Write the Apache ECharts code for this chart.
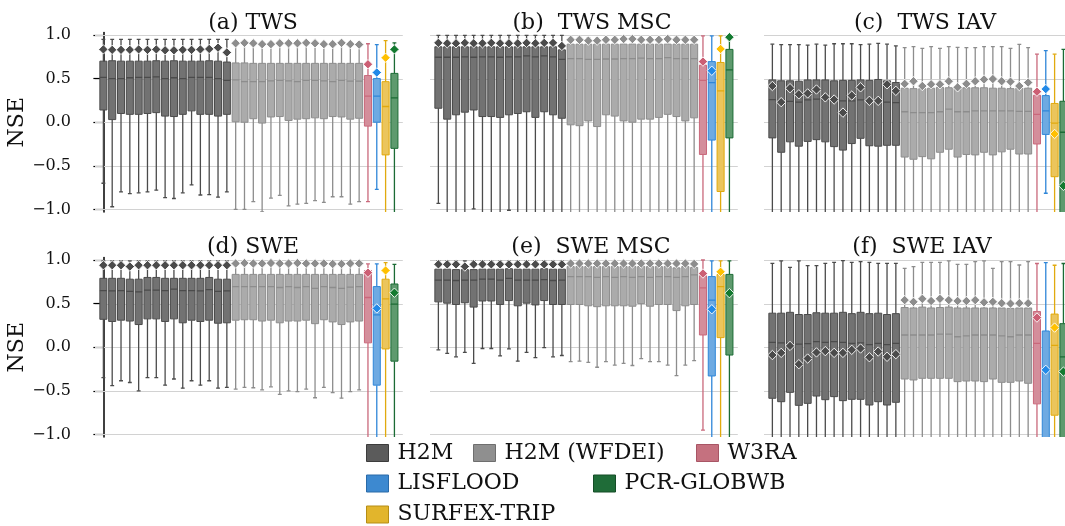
<!DOCTYPE html>
<html><head><meta charset="utf-8">
<script src="https://cdn.jsdelivr.net/npm/echarts@6/dist/echarts.min.js"></script>
<style>html,body{margin:0;padding:0;background:#fff}#c{width:1065px;height:526px}</style>
</head><body><div id="c"></div><script>
// ---------------- DATA ----------------
const groupNames = ['H2M', 'H2M (WFDEI)', 'W3RA', 'LISFLOOD', 'SURFEX-TRIP', 'PCR-GLOBWB'];
const groupSizes = [15, 15, 1, 1, 1, 1];
const panelTitles = ['(a) TWS', '(b)  TWS MSC', '(c)  TWS IAV', '(d) SWE', '(e)  SWE MSC', '(f)  SWE IAV'];
const yTicks = [-1.0, -0.5, 0.0, 0.5, 1.0];

// (a) TWS
const twsHigh = [0.95,0.95,0.95,0.95,0.95,0.95,0.95,0.95,0.95,0.95,0.95,0.95,0.95,0.95,0.95, 0.92,0.92,0.92,0.92,0.92,0.92,0.92,0.92,0.92,0.92,0.92,0.92,0.92,0.92,0.92, 0.90,0.89,0.935,0.91];
const twsQ3 = [0.70,0.705,0.70,0.70,0.70,0.70,0.705,0.70,0.705,0.70,0.70,0.70,0.705,0.70,0.69, 0.68,0.68,0.675,0.675,0.675,0.675,0.675,0.675,0.675,0.675,0.675,0.675,0.675,0.675,0.675, 0.535,0.50,0.465,0.56];
const twsMed = [0.515,0.50,0.50,0.51,0.515,0.515,0.52,0.50,0.51,0.50,0.515,0.515,0.515,0.50,0.48, 0.485,0.465,0.465,0.465,0.475,0.48,0.475,0.465,0.48,0.48,0.475,0.465,0.48,0.47,0.47, 0.30,0.30,0.18,0.28];
const twsQ1 = [0.14,0.03,0.10,0.09,0.09,0.10,0.11,0.07,0.065,0.09,0.13,0.09,0.09,0.07,0.09, 0.005,0.0,0.04,-0.01,0.06,0.065,0.02,0.035,0.04,0.05,0.04,0.065,0.06,0.035,0.045, -0.045,0.0,-0.375,-0.30];
const twsLow = [-0.70,-0.97,-0.80,-0.82,-0.81,-0.80,-0.78,-0.865,-0.875,-0.81,-0.72,-0.835,-0.83,-0.86,-0.80, -1.0,-1.0,-0.91,-1.03,-0.87,-0.84,-0.96,-0.94,-0.93,-0.90,-0.92,-0.855,-0.855,-0.94,-0.91, -0.91,-0.77,-1.3,-1.3];
const twsMean = [0.835,0.83,0.83,0.83,0.835,0.83,0.835,0.825,0.825,0.83,0.83,0.835,0.84,0.855,0.80, 0.905,0.91,0.905,0.895,0.895,0.905,0.905,0.905,0.91,0.905,0.895,0.895,0.91,0.895,0.89, 0.665,0.57,0.74,0.835];

// (b) TWS MSC
const twsMscHigh = [0.995,0.995,0.995,0.995,0.995,0.995,0.995,0.995,0.995,0.995,0.995,0.995,0.995,0.995,0.995, 0.97,0.97,0.97,0.97,0.97,0.97,0.97,0.97,0.97,0.97,0.97,0.97,0.97,0.97,0.97, 0.99,0.99,0.99,0.995];
const twsMscQ3 = [0.865,0.865,0.865,0.865,0.865,0.865,0.865,0.865,0.865,0.865,0.865,0.865,0.865,0.865,0.83, 0.895,0.895,0.895,0.895,0.895,0.895,0.895,0.895,0.895,0.895,0.895,0.895,0.895,0.895,0.895, 0.655,0.695,0.685,0.835];
const twsMscMed = [0.745,0.745,0.745,0.75,0.745,0.75,0.75,0.745,0.75,0.75,0.76,0.75,0.76,0.75,0.72, 0.73,0.73,0.72,0.72,0.725,0.725,0.73,0.73,0.735,0.73,0.73,0.74,0.73,0.73,0.73, 0.48,0.455,0.36,0.60];
const twsMscQ1 = [0.16,0.035,0.085,0.115,0.14,0.065,0.065,0.055,0.085,0.10,0.12,0.055,0.12,0.085,0.045, -0.03,-0.04,0.015,-0.05,0.085,0.07,0.015,0.0,0.035,0.035,0.055,0.09,0.065,0.015,0.05, -0.37,-0.205,-0.795,-0.18];
const twsMscLow = [-0.93,-1.2,-1.2,-1.2,-0.995,-1.2,-1.2,-1.2,-1.01,-1.2,-1.2,-1.2,-1.2,-1.2,-1.2, -1.2,-1.2,-1.2,-1.2,-1.2,-1.2,-1.2,-1.2,-1.2,-1.2,-1.2,-1.2,-1.2,-1.2,-1.2, -1.2,-1.2,-1.2,-1.2];
const twsMscMean = [0.91,0.905,0.905,0.91,0.905,0.905,0.91,0.905,0.905,0.905,0.91,0.905,0.91,0.91,0.875, 0.945,0.945,0.935,0.935,0.945,0.945,0.955,0.955,0.945,0.945,0.945,0.955,0.945,0.945,0.945, 0.695,0.59,0.84,0.975];

// (c) TWS IAV
const twsIavHigh = [0.895,0.89,0.89,0.89,0.885,0.895,0.885,0.90,0.90,0.90,0.89,0.895,0.905,0.895,0.875, 0.855,0.866,0.847,0.866,0.847,0.866,0.858,0.855,0.855,0.866,0.866,0.866,0.847,0.893,0.855, 0.78,0.82,0.78,0.835];
const twsIavQ3 = [0.485,0.475,0.475,0.47,0.485,0.485,0.485,0.475,0.48,0.48,0.485,0.48,0.49,0.475,0.455, 0.39,0.385,0.385,0.39,0.40,0.395,0.39,0.395,0.395,0.395,0.39,0.39,0.385,0.39,0.39, 0.31,0.305,0.215,0.24];
const twsIavMed = [0.26,0.255,0.24,0.23,0.255,0.265,0.255,0.245,0.245,0.245,0.255,0.255,0.26,0.23,0.225, 0.12,0.11,0.11,0.11,0.12,0.15,0.12,0.12,0.13,0.13,0.13,0.13,0.13,0.125,0.125, 0.09,0.13,-0.01,-0.115];
const twsIavQ1 = [-0.18,-0.345,-0.225,-0.275,-0.22,-0.20,-0.225,-0.28,-0.32,-0.245,-0.185,-0.27,-0.275,-0.265,-0.265, -0.40,-0.425,-0.395,-0.42,-0.345,-0.31,-0.40,-0.37,-0.375,-0.345,-0.375,-0.34,-0.31,-0.365,-0.365, -0.25,-0.14,-0.625,-1.3];
const twsIavLow = [-1.2,-1.2,-1.2,-1.2,-1.2,-1.2,-1.2,-1.2,-1.2,-1.2,-1.2,-1.2,-1.2,-1.2,-1.2, -1.2,-1.2,-1.2,-1.2,-1.2,-1.2,-1.2,-1.2,-1.2,-1.2,-1.2,-1.2,-1.2,-1.2,-1.2, -1.2,-0.815,-1.2,-1.5];
const twsIavMean = [0.415,0.23,0.39,0.32,0.33,0.375,0.285,0.26,0.11,0.305,0.40,0.245,0.245,0.435,0.36, 0.44,0.47,0.415,0.435,0.435,0.47,0.40,0.44,0.47,0.49,0.495,0.47,0.465,0.415,0.455, 0.35,0.38,-0.135,-0.73];

// (d) SWE
const sweHigh = [0.99,0.99,0.99,0.99,0.99,0.99,0.99,0.99,0.99,0.99,0.99,0.99,0.99,0.99,0.99, 0.985,0.985,0.985,0.985,0.985,0.985,0.985,0.985,0.985,0.985,0.985,0.985,0.985,0.985,0.985, 0.955,0.955,0.97,0.95];
const sweQ3 = [0.79,0.79,0.79,0.78,0.78,0.80,0.80,0.79,0.79,0.79,0.79,0.79,0.80,0.78,0.78, 0.835,0.835,0.835,0.835,0.835,0.835,0.835,0.835,0.835,0.835,0.835,0.835,0.835,0.835,0.835, 0.88,0.695,0.78,0.725];
const sweMed = [0.65,0.645,0.65,0.64,0.635,0.655,0.655,0.65,0.665,0.65,0.65,0.645,0.66,0.64,0.645, 0.695,0.695,0.695,0.695,0.695,0.685,0.695,0.685,0.695,0.675,0.695,0.685,0.675,0.69,0.695, 0.57,0.37,0.555,0.495];
const sweQ1 = [0.32,0.295,0.31,0.30,0.26,0.325,0.325,0.295,0.325,0.28,0.31,0.295,0.31,0.275,0.28, 0.31,0.315,0.315,0.30,0.31,0.28,0.30,0.30,0.31,0.27,0.315,0.29,0.26,0.29,0.30, 0.05,-0.435,-0.02,-0.16];
const sweLow = [-0.35,-0.44,-0.385,-0.405,-0.50,-0.35,-0.35,-0.435,-0.365,-0.47,-0.385,-0.435,-0.385,-0.47,-0.46, -0.48,-0.46,-0.465,-0.49,-0.455,-0.54,-0.50,-0.51,-0.48,-0.58,-0.46,-0.52,-0.585,-0.51,-0.49, -1.2,-1.2,-1.2,-1.2];
const sweMean = [0.94,0.94,0.94,0.925,0.94,0.94,0.94,0.94,0.94,0.94,0.94,0.94,0.94,0.94,0.94, 0.96,0.965,0.96,0.96,0.965,0.96,0.96,0.965,0.96,0.96,0.96,0.955,0.955,0.96,0.96, 0.855,0.445,0.88,0.625];

// (e) SWE MSC
const sweMscHigh = [0.99,0.99,0.99,0.99,0.99,0.99,0.99,0.99,0.99,0.99,0.99,0.99,0.99,0.99,0.99, 0.99,0.99,0.99,0.99,0.99,0.99,0.99,0.99,0.99,0.99,0.99,0.99,0.99,0.99,0.99, 1.0,0.99,0.99,0.99];
const sweMscQ3 = [0.895,0.895,0.89,0.89,0.89,0.895,0.895,0.895,0.90,0.895,0.895,0.895,0.90,0.895,0.895, 0.925,0.925,0.925,0.925,0.925,0.925,0.925,0.925,0.925,0.925,0.925,0.925,0.91,0.925,0.915, 0.82,0.81,0.835,0.835];
const sweMscMed = [0.77,0.77,0.765,0.77,0.77,0.78,0.78,0.77,0.79,0.77,0.77,0.77,0.775,0.765,0.77, 0.81,0.81,0.81,0.80,0.81,0.80,0.81,0.80,0.81,0.80,0.81,0.81,0.80,0.81,0.83, 0.68,0.54,0.695,0.61];
const sweMscQ1 = [0.52,0.505,0.49,0.51,0.46,0.53,0.53,0.49,0.535,0.475,0.505,0.485,0.535,0.49,0.49, 0.49,0.49,0.475,0.465,0.475,0.475,0.475,0.47,0.50,0.47,0.49,0.49,0.42,0.475,0.49, 0.14,-0.33,0.11,-0.09];
const sweMscLow = [-0.03,-0.07,-0.11,-0.06,-0.185,-0.015,-0.015,-0.10,-0.02,-0.16,-0.06,-0.12,-0.005,-0.11,-0.095, -0.165,-0.16,-0.175,-0.23,-0.165,-0.205,-0.185,-0.21,-0.13,-0.165,-0.165,-0.205,-0.325,-0.205,-0.155, -0.95,-1.2,-1.2,-1.2];
const sweMscMean = [0.95,0.95,0.95,0.925,0.95,0.95,0.95,0.95,0.95,0.95,0.95,0.95,0.95,0.95,0.95, 0.96,0.96,0.96,0.96,0.96,0.96,0.96,0.96,0.96,0.96,0.96,0.96,0.96,0.96,0.955, 0.845,0.435,0.865,0.62];

// (f) SWE IAV
const sweIavHigh = [0.962,0.989,0.916,0.989,0.935,0.935,0.962,0.973,0.992,0.973,0.981,0.973,0.962,0.962,0.962, 0.904,0.924,0.973,0.973,0.973,0.989,0.95,0.95,0.981,0.989,0.904,0.981,0.981,0.943,0.981, 0.96,0.97,0.94,0.96];
const sweIavQ3 = [0.39,0.39,0.40,0.375,0.375,0.395,0.39,0.39,0.40,0.385,0.40,0.385,0.39,0.375,0.385, 0.455,0.45,0.46,0.45,0.455,0.46,0.45,0.45,0.45,0.45,0.45,0.45,0.445,0.45,0.45, 0.41,0.186,0.38,0.27];
const sweIavMed = [0.055,0.05,0.045,0.035,0.04,0.065,0.055,0.065,0.055,0.045,0.05,0.03,0.045,0.03,0.045, 0.14,0.14,0.14,0.14,0.15,0.15,0.12,0.13,0.14,0.14,0.14,0.13,0.12,0.14,0.14, 0.045,-0.27,0.02,-0.11];
const sweIavQ1 = [-0.586,-0.625,-0.518,-0.667,-0.644,-0.56,-0.602,-0.567,-0.613,-0.598,-0.598,-0.663,-0.625,-0.663,-0.632, -0.365,-0.376,-0.357,-0.357,-0.357,-0.357,-0.395,-0.388,-0.388,-0.395,-0.365,-0.403,-0.403,-0.388,-0.414, -0.65,-1.3,-0.78,-1.3];
const sweIavLow = [-1.2,-1.2,-1.2,-1.2,-1.2,-1.2,-1.2,-1.2,-1.2,-1.2,-1.2,-1.2,-1.2,-1.2,-1.2, -1.2,-1.2,-1.2,-1.2,-1.2,-1.2,-1.2,-1.2,-1.2,-1.2,-1.2,-1.2,-1.2,-1.2,-1.2, -1.2,-1.5,-1.2,-1.5];
const sweIavMean = [-0.09,-0.065,0.015,-0.195,-0.13,-0.06,-0.045,-0.065,-0.065,-0.03,-0.015,-0.115,-0.05,-0.11,-0.08, 0.54,0.52,0.555,0.53,0.555,0.54,0.53,0.53,0.54,0.515,0.52,0.505,0.50,0.505,0.505, 0.34,-0.26,0.225,-0.28];

// ---------------- STYLE / LAYOUT ----------------
const FONT = 'DejaVu Serif';
const groupStyles = [
  {edge: '#4b4b4b', fill: '#727272', dia: '#4b4b4b', legend: '#5b5b5b', legendBorder: '#3c3c3c'},
  {edge: '#8d8d8d', fill: '#ababab', dia: '#8d8d8d', legend: '#8f8f8f', legendBorder: '#6e6e6e'},
  {edge: '#c9687b', fill: '#d48e9b', dia: '#cc5f74', legend: '#c5717f', legendBorder: '#a85565'},
  {edge: '#2f86d8', fill: '#6eaae2', dia: '#2189e8', legend: '#3d89d0', legendBorder: '#2a6aa8'},
  {edge: '#e1aa0e', fill: '#ebc55c', dia: '#ffc000', legend: '#e2b52c', legendBorder: '#b58d15'},
  {edge: '#1b6b35', fill: '#5e9a6e', dia: '#137a30', legend: '#1f6c38', legendBorder: '#144d27'}
];
const panels = [
  {low: twsLow, q1: twsQ1, med: twsMed, q3: twsQ3, high: twsHigh, mean: twsMean},
  {low: twsMscLow, q1: twsMscQ1, med: twsMscMed, q3: twsMscQ3, high: twsMscHigh, mean: twsMscMean},
  {low: twsIavLow, q1: twsIavQ1, med: twsIavMed, q3: twsIavQ3, high: twsIavHigh, mean: twsIavMean},
  {low: sweLow, q1: sweQ1, med: sweMed, q3: sweQ3, high: sweHigh, mean: sweMean},
  {low: sweMscLow, q1: sweMscQ1, med: sweMscMed, q3: sweMscQ3, high: sweMscHigh, mean: sweMscMean},
  {low: sweIavLow, q1: sweIavQ1, med: sweIavMed, q3: sweIavQ3, high: sweIavHigh, mean: sweIavMean}
];
const gridLefts = [95, 430, 764];
const gridTops = [32.4, 257.4];
const gridW = 307.8, gridH = 179.6;
const titleX = [253, 592, 925, 253, 591, 922];
const titleY = [12, 12, 12, 236, 236, 236];
const legendPos = [[366, 442], [473, 442], [696, 442], [366, 472.5], [366, 503.5], [593, 472.5]];

function boxRenderer(st) {
  return function (params, api) {
    const x = api.value(0);
    const lo = api.coord([x, api.value(1)]);
    const q1 = api.coord([x, api.value(2)]);
    const md = api.coord([x, api.value(3)]);
    const q3 = api.coord([x, api.value(4)]);
    const hi = api.coord([x, api.value(5)]);
    const mn = api.coord([x, api.value(6)]);
    const cx = md[0];
    const bw = api.size([1, 0])[0] * 0.8;
    const cap = bw * 0.55;
    const r = 4.7;
    const ls = {stroke: st.edge, lineWidth: 1.3};
    return {type: 'group', children: [
      {type: 'line', shape: {x1: cx, y1: q1[1], x2: cx, y2: lo[1]}, style: ls},
      {type: 'line', shape: {x1: cx, y1: q3[1], x2: cx, y2: hi[1]}, style: ls},
      {type: 'line', shape: {x1: cx - cap / 2, y1: lo[1], x2: cx + cap / 2, y2: lo[1]}, style: ls},
      {type: 'line', shape: {x1: cx - cap / 2, y1: hi[1], x2: cx + cap / 2, y2: hi[1]}, style: ls},
      {type: 'rect', shape: {x: cx - bw / 2, y: q3[1], width: bw, height: q1[1] - q3[1]},
        style: {fill: st.fill, stroke: st.edge, lineWidth: 1}},
      {type: 'line', shape: {x1: cx - bw / 2, y1: md[1], x2: cx + bw / 2, y2: md[1]},
        style: {stroke: st.edge, lineWidth: 1.3}},
      {type: 'polygon', shape: {points: [[cx, mn[1] - r], [cx + r, mn[1]], [cx, mn[1] + r], [cx - r, mn[1]]]},
        style: {fill: st.dia, stroke: '#ffffff', lineWidth: 0.9}}
    ]};
  };
}
function gridLineRenderer(params, api) {
  const y = Math.round(api.coord([0, api.value(1)])[1]) + 0.5;
  const cs = params.coordSys;
  return {type: 'line', shape: {x1: cs.x, y1: y, x2: cs.x + cs.width, y2: y},
    style: {stroke: '#d2d2d2', lineWidth: 1}};
}

const grids = [], xAxes = [], yAxes = [], titles = [], series = [];
panels.forEach((p, k) => {
  const col = k % 3, row = Math.floor(k / 3);
  const showY = col === 0;
  grids.push({left: gridLefts[col], top: gridTops[row], width: gridW, height: gridH,
    containLabel: false, outerBoundsMode: 'none'});
  xAxes.push({type: 'value', gridIndex: k, min: -0.95, max: 33.95, show: false});
  yAxes.push({
    type: 'value', gridIndex: k, min: -1.03, max: 1.03,
    splitLine: {show: false},
    axisLine: {show: showY, lineStyle: {color: '#000', width: 1.5}},
    axisTick: {show: showY, customValues: yTicks, length: 10, lineStyle: {color: '#000', width: 1.2}},
    axisLabel: {show: showY, customValues: yTicks, margin: 24, fontFamily: FONT, fontSize: 16, color: '#111',
      formatter: v => v.toFixed(1).replace('-', '\u2212')},
    name: showY ? 'NSE' : '', nameLocation: 'middle', nameRotate: 90, nameGap: 63,
    nameTextStyle: {fontFamily: FONT, fontSize: 22, color: '#111'}
  });
  titles.push({text: panelTitles[k], left: titleX[k], top: titleY[k], textAlign: 'center', padding: 0,
    textStyle: {fontFamily: FONT, fontSize: 22, fontWeight: 'normal', color: '#111'}});
  series.push({type: 'custom', name: 'gridlines', xAxisIndex: k, yAxisIndex: k, silent: true, z: 1,
    data: yTicks.map(v => [0, v]), renderItem: gridLineRenderer});
  let start = 0;
  groupNames.forEach((g, gi) => {
    const data = [];
    for (let i = start; i < start + groupSizes[gi]; i++) {
      data.push([i, p.low[i], p.q1[i], p.med[i], p.q3[i], p.high[i], p.mean[i]]);
    }
    start += groupSizes[gi];
    series.push({type: 'custom', name: g, xAxisIndex: k, yAxisIndex: k, clip: true, z: 3,
      data: data, renderItem: boxRenderer(groupStyles[gi])});
  });
});

const legends = groupNames.map((g, gi) => ({
  data: [{name: g, icon: 'rect', itemStyle: {color: groupStyles[gi].legend, borderColor: groupStyles[gi].legendBorder, borderWidth: 1}}],
  left: legendPos[gi][0], top: legendPos[gi][1], padding: 0, itemWidth: 22, itemHeight: 17,
  textStyle: {fontFamily: FONT, fontSize: 22, color: '#111', padding: [0, 0, 0, 4]}
}));

const chart = echarts.init(document.getElementById('c'), null, {renderer: 'canvas'});
chart.setOption({
  animation: false,
  backgroundColor: '#ffffff',
  textStyle: {fontFamily: FONT},
  title: titles,
  legend: legends,
  grid: grids,
  xAxis: xAxes,
  yAxis: yAxes,
  series: series
});
</script></body></html>
